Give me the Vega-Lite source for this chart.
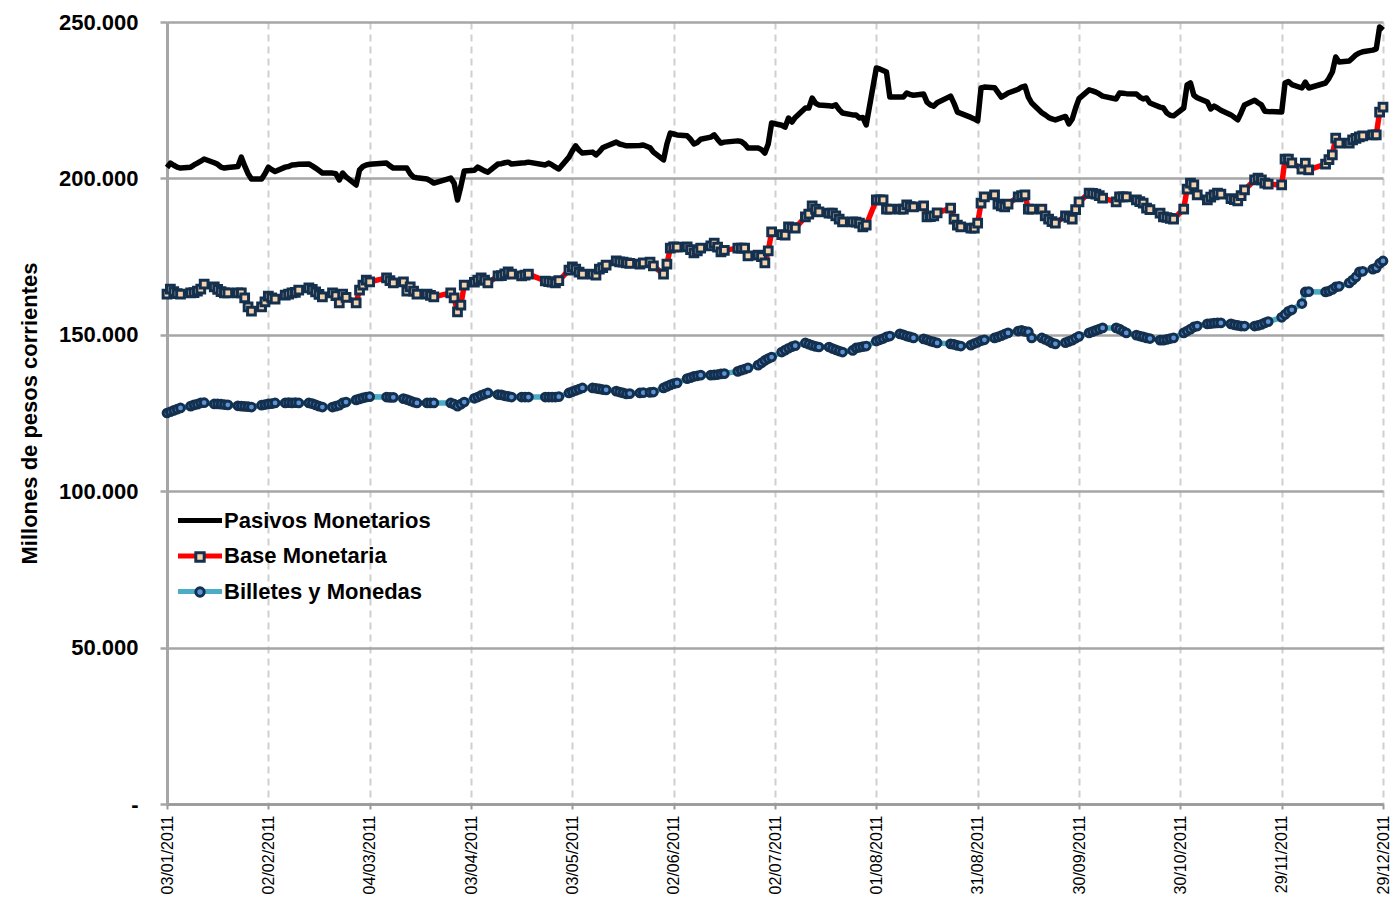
{
  "$schema": "https://vega.github.io/schema/vega-lite/v6.json",
  "width": 1216,
  "height": 782,
  "autosize": {"type": "none"},
  "padding": {"left": 167, "top": 22, "right": 10, "bottom": 100},
  "background": "white",
  "config": {"font": "Liberation Sans", "view": {"stroke": null}},
  "data": {"values": [
    {"d":"2011-01-03","P":203500,"B":163000,"M":125000},
    {"d":"2011-01-04","P":204900,"B":164600,"M":125400},
    {"d":"2011-01-05","P":204200,"B":163800,"M":125800},
    {"d":"2011-01-06","P":203600,"B":163200,"M":126200},
    {"d":"2011-01-07","P":203300,"B":163000,"M":126600},
    {"d":"2011-01-10","P":203600,"B":163400,"M":127200},
    {"d":"2011-01-11","P":204300,"B":163500,"M":127600},
    {"d":"2011-01-12","P":204900,"B":164000,"M":127800},
    {"d":"2011-01-13","P":205500,"B":164600,"M":128200},
    {"d":"2011-01-14","P":206200,"B":166200,"M":128300},
    {"d":"2011-01-17","P":205000,"B":165300,"M":127900},
    {"d":"2011-01-18","P":204500,"B":164500,"M":127900},
    {"d":"2011-01-19","P":203600,"B":163800,"M":127800},
    {"d":"2011-01-20","P":203300,"B":163400,"M":127700},
    {"d":"2011-01-21","P":203500,"B":163400,"M":127600},
    {"d":"2011-01-24","P":203800,"B":163400,"M":127300},
    {"d":"2011-01-25","P":206800,"B":163400,"M":127200},
    {"d":"2011-01-26","P":204000,"B":161800,"M":127100},
    {"d":"2011-01-27","P":201500,"B":158900,"M":127000},
    {"d":"2011-01-28","P":199800,"B":157600,"M":126900},
    {"d":"2011-01-31","P":199800,"B":158900,"M":127500},
    {"d":"2011-02-01","P":201500,"B":160500,"M":127700},
    {"d":"2011-02-02","P":203600,"B":162400,"M":127900},
    {"d":"2011-02-03","P":202800,"B":161800,"M":128000},
    {"d":"2011-02-04","P":202200,"B":161400,"M":128200},
    {"d":"2011-02-07","P":203600,"B":162700,"M":128200},
    {"d":"2011-02-08","P":203800,"B":163000,"M":128300},
    {"d":"2011-02-09","P":204300,"B":163400,"M":128200},
    {"d":"2011-02-10","P":204400,"B":163600,"M":128300},
    {"d":"2011-02-11","P":204500,"B":164300,"M":128200},
    {"d":"2011-02-14","P":204600,"B":165000,"M":128200},
    {"d":"2011-02-15","P":204000,"B":164500,"M":128000},
    {"d":"2011-02-16","P":203300,"B":163700,"M":127600},
    {"d":"2011-02-17","P":202500,"B":162900,"M":127200},
    {"d":"2011-02-18","P":201700,"B":162100,"M":126900},
    {"d":"2011-02-21","P":201700,"B":163400,"M":126900},
    {"d":"2011-02-22","P":201500,"B":162500,"M":127200},
    {"d":"2011-02-23","P":199500,"B":160200,"M":127500},
    {"d":"2011-02-24","P":201700,"B":163000,"M":128200},
    {"d":"2011-02-25","P":200500,"B":162000,"M":128500},
    {"d":"2011-02-28","P":197900,"B":160200,"M":129200},
    {"d":"2011-03-01","P":202700,"B":164300,"M":129500},
    {"d":"2011-03-02","P":203800,"B":165900,"M":129800},
    {"d":"2011-03-03","P":204300,"B":167500,"M":130100},
    {"d":"2011-03-04","P":204500,"B":166900,"M":130200},
    {"d":"2011-03-09","P":204900,"B":168200,"M":130100},
    {"d":"2011-03-10","P":204000,"B":167300,"M":130000},
    {"d":"2011-03-11","P":203300,"B":166600,"M":130000},
    {"d":"2011-03-14","P":203300,"B":166900,"M":129600},
    {"d":"2011-03-15","P":203300,"B":164000,"M":129300},
    {"d":"2011-03-16","P":201500,"B":165300,"M":128900},
    {"d":"2011-03-17","P":200400,"B":164000,"M":128500},
    {"d":"2011-03-18","P":200200,"B":163000,"M":128200},
    {"d":"2011-03-21","P":199800,"B":163000,"M":128200},
    {"d":"2011-03-22","P":199200,"B":162600,"M":128200},
    {"d":"2011-03-23","P":198500,"B":162100,"M":128200},
    {"d":"2011-03-28","P":200100,"B":163400,"M":128200},
    {"d":"2011-03-29","P":198500,"B":161800,"M":127800},
    {"d":"2011-03-30","P":193100,"B":157300,"M":127200},
    {"d":"2011-03-31","P":197500,"B":159500,"M":127800},
    {"d":"2011-04-01","P":202400,"B":165900,"M":128500},
    {"d":"2011-04-04","P":202600,"B":166800,"M":129700},
    {"d":"2011-04-05","P":203600,"B":167500,"M":130100},
    {"d":"2011-04-06","P":203000,"B":168200,"M":130600},
    {"d":"2011-04-07","P":202400,"B":167500,"M":131000},
    {"d":"2011-04-08","P":202000,"B":166600,"M":131400},
    {"d":"2011-04-11","P":204600,"B":168800,"M":130900},
    {"d":"2011-04-12","P":204700,"B":168900,"M":130800},
    {"d":"2011-04-13","P":205000,"B":169500,"M":130500},
    {"d":"2011-04-14","P":205200,"B":170100,"M":130300},
    {"d":"2011-04-15","P":204600,"B":169400,"M":130100},
    {"d":"2011-04-18","P":204900,"B":168800,"M":130100},
    {"d":"2011-04-19","P":205000,"B":169100,"M":130100},
    {"d":"2011-04-20","P":205200,"B":169400,"M":130100},
    {"d":"2011-04-25","P":204300,"B":167200,"M":130100},
    {"d":"2011-04-26","P":204900,"B":167000,"M":130100},
    {"d":"2011-04-27","P":204300,"B":166800,"M":130100},
    {"d":"2011-04-28","P":203600,"B":166600,"M":130100},
    {"d":"2011-04-29","P":203000,"B":167300,"M":130200},
    {"d":"2011-05-02","P":206800,"B":170700,"M":131400},
    {"d":"2011-05-03","P":208800,"B":171700,"M":131800},
    {"d":"2011-05-04","P":210400,"B":171000,"M":132200},
    {"d":"2011-05-05","P":209000,"B":170000,"M":132600},
    {"d":"2011-05-06","P":208100,"B":169400,"M":133000},
    {"d":"2011-05-09","P":208400,"B":169400,"M":133000},
    {"d":"2011-05-10","P":207500,"B":169100,"M":132900},
    {"d":"2011-05-11","P":208500,"B":171000,"M":132700},
    {"d":"2011-05-12","P":209800,"B":171500,"M":132500},
    {"d":"2011-05-13","P":210300,"B":172300,"M":132400},
    {"d":"2011-05-16","P":211600,"B":173600,"M":132000},
    {"d":"2011-05-17","P":211000,"B":173300,"M":131700},
    {"d":"2011-05-18","P":210700,"B":173200,"M":131400},
    {"d":"2011-05-19","P":210400,"B":173000,"M":131100},
    {"d":"2011-05-20","P":210400,"B":172800,"M":131200},
    {"d":"2011-05-23","P":210500,"B":172600,"M":131400},
    {"d":"2011-05-24","P":210700,"B":173000,"M":131500},
    {"d":"2011-05-26","P":209800,"B":173200,"M":131600},
    {"d":"2011-05-27","P":208400,"B":172000,"M":131700},
    {"d":"2011-05-30","P":205900,"B":169400,"M":133000},
    {"d":"2011-05-31","P":211000,"B":172600,"M":133500},
    {"d":"2011-06-01","P":214500,"B":177700,"M":134000},
    {"d":"2011-06-02","P":214200,"B":178100,"M":134400},
    {"d":"2011-06-03","P":213900,"B":178000,"M":134600},
    {"d":"2011-06-06","P":213600,"B":178100,"M":136000},
    {"d":"2011-06-07","P":212500,"B":177200,"M":136300},
    {"d":"2011-06-08","P":211000,"B":176200,"M":136700},
    {"d":"2011-06-09","P":211500,"B":176800,"M":136900},
    {"d":"2011-06-10","P":212500,"B":177700,"M":137100},
    {"d":"2011-06-13","P":213200,"B":178400,"M":137100},
    {"d":"2011-06-14","P":213900,"B":179300,"M":137200},
    {"d":"2011-06-15","P":212500,"B":178000,"M":137300},
    {"d":"2011-06-16","P":211300,"B":176500,"M":137500},
    {"d":"2011-06-17","P":211600,"B":177000,"M":137600},
    {"d":"2011-06-21","P":212000,"B":177700,"M":138300},
    {"d":"2011-06-22","P":211800,"B":177700,"M":138700},
    {"d":"2011-06-23","P":211000,"B":177700,"M":139000},
    {"d":"2011-06-24","P":209700,"B":175200,"M":139400},
    {"d":"2011-06-27","P":209700,"B":175500,"M":140300},
    {"d":"2011-06-28","P":209200,"B":175000,"M":141000},
    {"d":"2011-06-29","P":208100,"B":173000,"M":141800},
    {"d":"2011-06-30","P":211000,"B":176800,"M":142400},
    {"d":"2011-07-01","P":217700,"B":182900,"M":142900},
    {"d":"2011-07-04","P":217000,"B":182000,"M":144500},
    {"d":"2011-07-05","P":216400,"B":181900,"M":145100},
    {"d":"2011-07-06","P":219300,"B":184500,"M":145700},
    {"d":"2011-07-07","P":218000,"B":184300,"M":146200},
    {"d":"2011-07-08","P":219500,"B":184100,"M":146500},
    {"d":"2011-07-11","P":222500,"B":187700,"M":147400},
    {"d":"2011-07-12","P":222500,"B":188600,"M":147000},
    {"d":"2011-07-13","P":225700,"B":191200,"M":146600},
    {"d":"2011-07-14","P":224000,"B":190200,"M":146300},
    {"d":"2011-07-15","P":223500,"B":189300,"M":146100},
    {"d":"2011-07-18","P":223200,"B":188900,"M":146100},
    {"d":"2011-07-19","P":223100,"B":188900,"M":145600},
    {"d":"2011-07-20","P":223500,"B":188000,"M":145200},
    {"d":"2011-07-21","P":222000,"B":187000,"M":144800},
    {"d":"2011-07-22","P":220900,"B":186100,"M":144500},
    {"d":"2011-07-25","P":220300,"B":186100,"M":145000},
    {"d":"2011-07-26","P":220300,"B":186000,"M":145800},
    {"d":"2011-07-27","P":219300,"B":185700,"M":146000},
    {"d":"2011-07-28","P":219500,"B":184500,"M":146200},
    {"d":"2011-07-29","P":217100,"B":185100,"M":146400},
    {"d":"2011-08-01","P":235300,"B":193100,"M":148000},
    {"d":"2011-08-02","P":235000,"B":193100,"M":148400},
    {"d":"2011-08-03","P":234500,"B":193100,"M":148800},
    {"d":"2011-08-04","P":234000,"B":190200,"M":149300},
    {"d":"2011-08-05","P":226000,"B":190200,"M":149600},
    {"d":"2011-08-08","P":226000,"B":190200,"M":150300},
    {"d":"2011-08-09","P":226000,"B":190200,"M":150000},
    {"d":"2011-08-10","P":227300,"B":191500,"M":149600},
    {"d":"2011-08-11","P":226800,"B":191000,"M":149300},
    {"d":"2011-08-12","P":226600,"B":190900,"M":149000},
    {"d":"2011-08-15","P":227000,"B":191200,"M":148700},
    {"d":"2011-08-16","P":224400,"B":187700,"M":148400},
    {"d":"2011-08-17","P":223500,"B":187800,"M":148000},
    {"d":"2011-08-18","P":223100,"B":188000,"M":147700},
    {"d":"2011-08-19","P":224200,"B":189000,"M":147400},
    {"d":"2011-08-23","P":226300,"B":190500,"M":147100},
    {"d":"2011-08-24","P":224000,"B":187000,"M":146900},
    {"d":"2011-08-25","P":221200,"B":185100,"M":146600},
    {"d":"2011-08-26","P":220800,"B":184500,"M":146400},
    {"d":"2011-08-29","P":219500,"B":184100,"M":146700},
    {"d":"2011-08-30","P":219000,"B":184100,"M":147200},
    {"d":"2011-08-31","P":218400,"B":185700,"M":147600},
    {"d":"2011-09-01","P":228900,"B":192100,"M":148100},
    {"d":"2011-09-02","P":229200,"B":194100,"M":148400},
    {"d":"2011-09-05","P":229000,"B":194700,"M":149000},
    {"d":"2011-09-06","P":227500,"B":191800,"M":149300},
    {"d":"2011-09-07","P":226000,"B":191200,"M":149700},
    {"d":"2011-09-08","P":226600,"B":190900,"M":150200},
    {"d":"2011-09-09","P":227300,"B":191800,"M":150600},
    {"d":"2011-09-12","P":228500,"B":194100,"M":151200},
    {"d":"2011-09-13","P":229200,"B":194500,"M":151400},
    {"d":"2011-09-14","P":229500,"B":194700,"M":151100},
    {"d":"2011-09-15","P":226000,"B":190200,"M":150900},
    {"d":"2011-09-16","P":224100,"B":190200,"M":149000},
    {"d":"2011-09-19","P":221000,"B":190200,"M":149000},
    {"d":"2011-09-20","P":220300,"B":188000,"M":148500},
    {"d":"2011-09-21","P":219500,"B":187000,"M":148000},
    {"d":"2011-09-22","P":219000,"B":186200,"M":147400},
    {"d":"2011-09-23","P":218700,"B":185700,"M":147100},
    {"d":"2011-09-26","P":219800,"B":188000,"M":147500},
    {"d":"2011-09-27","P":217400,"B":187500,"M":147900},
    {"d":"2011-09-28","P":219000,"B":187000,"M":148300},
    {"d":"2011-09-29","P":222500,"B":190000,"M":148900},
    {"d":"2011-09-30","P":225500,"B":192500,"M":149500},
    {"d":"2011-10-03","P":228300,"B":195300,"M":150600},
    {"d":"2011-10-04","P":228000,"B":195200,"M":151000},
    {"d":"2011-10-05","P":227600,"B":195000,"M":151400},
    {"d":"2011-10-06","P":227000,"B":194500,"M":151800},
    {"d":"2011-10-07","P":226300,"B":193700,"M":152200},
    {"d":"2011-10-11","P":225400,"B":192500,"M":152200},
    {"d":"2011-10-12","P":227300,"B":194100,"M":151800},
    {"d":"2011-10-13","P":227200,"B":194100,"M":151200},
    {"d":"2011-10-14","P":227100,"B":194100,"M":150600},
    {"d":"2011-10-17","P":227000,"B":193100,"M":149900},
    {"d":"2011-10-18","P":226000,"B":192600,"M":149600},
    {"d":"2011-10-19","P":225400,"B":192100,"M":149300},
    {"d":"2011-10-20","P":225700,"B":190500,"M":149000},
    {"d":"2011-10-21","P":224100,"B":190000,"M":148800},
    {"d":"2011-10-24","P":222800,"B":188900,"M":148300},
    {"d":"2011-10-25","P":222500,"B":187700,"M":148300},
    {"d":"2011-10-26","P":220900,"B":187500,"M":148500},
    {"d":"2011-10-27","P":220200,"B":187200,"M":148800},
    {"d":"2011-10-28","P":220000,"B":187000,"M":149000},
    {"d":"2011-10-31","P":222500,"B":190200,"M":150600},
    {"d":"2011-11-01","P":229900,"B":196600,"M":151200},
    {"d":"2011-11-02","P":230500,"B":198500,"M":151800},
    {"d":"2011-11-03","P":226600,"B":197900,"M":152500},
    {"d":"2011-11-04","P":225800,"B":194700,"M":152800},
    {"d":"2011-11-07","P":224400,"B":193100,"M":153500},
    {"d":"2011-11-08","P":222200,"B":194000,"M":153600},
    {"d":"2011-11-09","P":223100,"B":194700,"M":153700},
    {"d":"2011-11-10","P":222500,"B":195300,"M":153800},
    {"d":"2011-11-11","P":221800,"B":195000,"M":153800},
    {"d":"2011-11-14","P":220300,"B":193500,"M":153500},
    {"d":"2011-11-15","P":219500,"B":193200,"M":153200},
    {"d":"2011-11-16","P":218700,"B":192800,"M":153000},
    {"d":"2011-11-17","P":221000,"B":194500,"M":152800},
    {"d":"2011-11-18","P":223500,"B":196300,"M":152800},
    {"d":"2011-11-21","P":225000,"B":199500,"M":152800},
    {"d":"2011-11-22","P":224200,"B":200100,"M":153000},
    {"d":"2011-11-23","P":223500,"B":199500,"M":153300},
    {"d":"2011-11-24","P":221500,"B":198500,"M":153800},
    {"d":"2011-11-25","P":221400,"B":198200,"M":154200},
    {"d":"2011-11-29","P":221200,"B":197900,"M":155600},
    {"d":"2011-11-30","P":230500,"B":206200,"M":156500},
    {"d":"2011-12-01","P":231000,"B":206200,"M":157500},
    {"d":"2011-12-02","P":230000,"B":205000,"M":158000},
    {"d":"2011-12-05","P":228900,"B":203000,"M":160000},
    {"d":"2011-12-06","P":230800,"B":204900,"M":163700},
    {"d":"2011-12-07","P":228900,"B":202700,"M":163800},
    {"d":"2011-12-12","P":230500,"B":204600,"M":163700},
    {"d":"2011-12-13","P":232000,"B":206000,"M":164000},
    {"d":"2011-12-14","P":234000,"B":207500,"M":164500},
    {"d":"2011-12-15","P":238800,"B":212900,"M":165300},
    {"d":"2011-12-16","P":237200,"B":211300,"M":165500},
    {"d":"2011-12-19","P":237500,"B":211300,"M":166600},
    {"d":"2011-12-20","P":238500,"B":212300,"M":167500},
    {"d":"2011-12-21","P":239500,"B":212800,"M":168500},
    {"d":"2011-12-22","P":240100,"B":213300,"M":170100},
    {"d":"2011-12-23","P":240500,"B":213600,"M":170300},
    {"d":"2011-12-26","P":241000,"B":213900,"M":171000},
    {"d":"2011-12-27","P":241400,"B":213900,"M":171400},
    {"d":"2011-12-28","P":248400,"B":221200,"M":172800},
    {"d":"2011-12-29","P":247400,"B":222800,"M":173600}
  ]},
  "transform": [{"fold": ["P", "B", "M"], "as": ["serie", "valor"]}],
  "encoding": {
    "x": {
      "field": "d",
      "type": "temporal",
      "scale": {
        "type": "utc",
        "domain": [
          {"year": 2011, "month": 1, "date": 3, "utc": true},
          {"year": 2011, "month": 12, "date": 29, "utc": true}
        ]
      },
      "axis": {
        "title": null,
        "values": [
          {"year": 2011, "month": 1, "date": 3, "utc": true},
          {"year": 2011, "month": 2, "date": 2, "utc": true},
          {"year": 2011, "month": 3, "date": 4, "utc": true},
          {"year": 2011, "month": 4, "date": 3, "utc": true},
          {"year": 2011, "month": 5, "date": 3, "utc": true},
          {"year": 2011, "month": 6, "date": 2, "utc": true},
          {"year": 2011, "month": 7, "date": 2, "utc": true},
          {"year": 2011, "month": 8, "date": 1, "utc": true},
          {"year": 2011, "month": 8, "date": 31, "utc": true},
          {"year": 2011, "month": 9, "date": 30, "utc": true},
          {"year": 2011, "month": 10, "date": 30, "utc": true},
          {"year": 2011, "month": 11, "date": 29, "utc": true},
          {"year": 2011, "month": 12, "date": 29, "utc": true}
        ],
        "labelExpr": "utcFormat(datum.value, '%d/%m/%Y')",
        "labelAngle": -90,
        "labelFontSize": 16,
        "labelColor": "#000000",
        "labelPadding": 6,
        "labelFlush": false,
        "labelOverlap": false,
        "grid": true,
        "gridColor": "#d0d0d0",
        "gridWidth": 2,
        "gridDash": [7, 5],
        "domain": true,
        "domainColor": "#999999",
        "domainWidth": 2.5,
        "ticks": true,
        "tickColor": "#999999",
        "tickWidth": 2,
        "tickSize": 5
      }
    },
    "y": {
      "field": "valor",
      "type": "quantitative",
      "scale": {"domain": [0, 250000], "nice": false, "zero": true},
      "axis": {
        "title": "Millones de pesos corrientes",
        "titleFontSize": 22,
        "titleFontWeight": "bold",
        "titleColor": "#000000",
        "titlePadding": 17,
        "values": [0, 50000, 100000, 150000, 200000, 250000],
        "labelExpr": "datum.value == 0 ? '-' : replace(format(datum.value, ','), ',', '.')",
        "labelFontSize": 22,
        "labelFontWeight": "bold",
        "labelColor": "#000000",
        "labelPadding": 22,
        "grid": true,
        "gridColor": "#a6a6a6",
        "gridWidth": 2.5,
        "domain": true,
        "domainColor": "#a6a6a6",
        "domainWidth": 3,
        "ticks": true,
        "tickColor": "#a6a6a6",
        "tickWidth": 2.5,
        "tickSize": 7
      }
    }
  },
  "layer": [
    {
      "mark": {"type": "line", "strokeWidth": 5.5, "strokeJoin": "round"},
      "encoding": {
        "color": {
          "field": "serie",
          "type": "nominal",
          "scale": {"domain": ["P", "B", "M"], "range": ["#000000", "#ff0000", "#4bacc6"]},
          "legend": {
            "orient": "none",
            "legendX": 19.5,
            "legendY": 485,
            "title": null,
            "symbolType": "M-2,0H2",
            "symbolStrokeWidth": 5,
            "symbolSize": 484,
            "labelExpr": "datum.label == 'P' ? 'Pasivos Monetarios' : datum.label == 'B' ? 'Base Monetaria' : 'Billetes y Monedas'",
            "labelFontSize": 22,
            "labelFontWeight": "bold",
            "labelColor": "#000000",
            "labelOffset": 10.5,
            "labelLimit": 400,
            "rowPadding": 10.5,
            "padding": 0
          }
        }
      }
    },
    {
      "transform": [{"filter": "datum.serie != 'P'"}],
      "mark": {"type": "point", "filled": true, "strokeWidth": 3, "size": 60, "opacity": 1},
      "encoding": {
        "shape": {
          "field": "serie",
          "type": "nominal",
          "scale": {"domain": ["B", "M"], "range": ["square", "circle"]},
          "legend": {
            "orient": "none",
            "legendX": 22,
            "legendY": 524,
            "title": null,
            "symbolSize": 70,
            "symbolStrokeWidth": 3,
            "labelExpr": "' '",
            "labelFontSize": 22,
            "labelFontWeight": "bold",
            "rowPadding": 13,
            "padding": 0
          }
        },
        "fill": {
          "field": "serie",
          "type": "nominal",
          "scale": {"domain": ["B", "M"], "range": ["#f6d3ad", "#5b92d8"]},
          "legend": {
            "orient": "none",
            "legendX": 22,
            "legendY": 524,
            "title": null,
            "symbolSize": 70,
            "symbolStrokeWidth": 3,
            "labelExpr": "' '",
            "labelFontSize": 22,
            "labelFontWeight": "bold",
            "rowPadding": 13,
            "padding": 0
          }
        },
        "stroke": {
          "field": "serie",
          "type": "nominal",
          "scale": {"domain": ["B", "M"], "range": ["#14304f", "#14304f"]},
          "legend": {
            "orient": "none",
            "legendX": 22,
            "legendY": 524,
            "title": null,
            "symbolSize": 70,
            "symbolStrokeWidth": 3,
            "labelExpr": "' '",
            "labelFontSize": 22,
            "labelFontWeight": "bold",
            "rowPadding": 13,
            "padding": 0
          }
        }
      }
    }
  ]
}
